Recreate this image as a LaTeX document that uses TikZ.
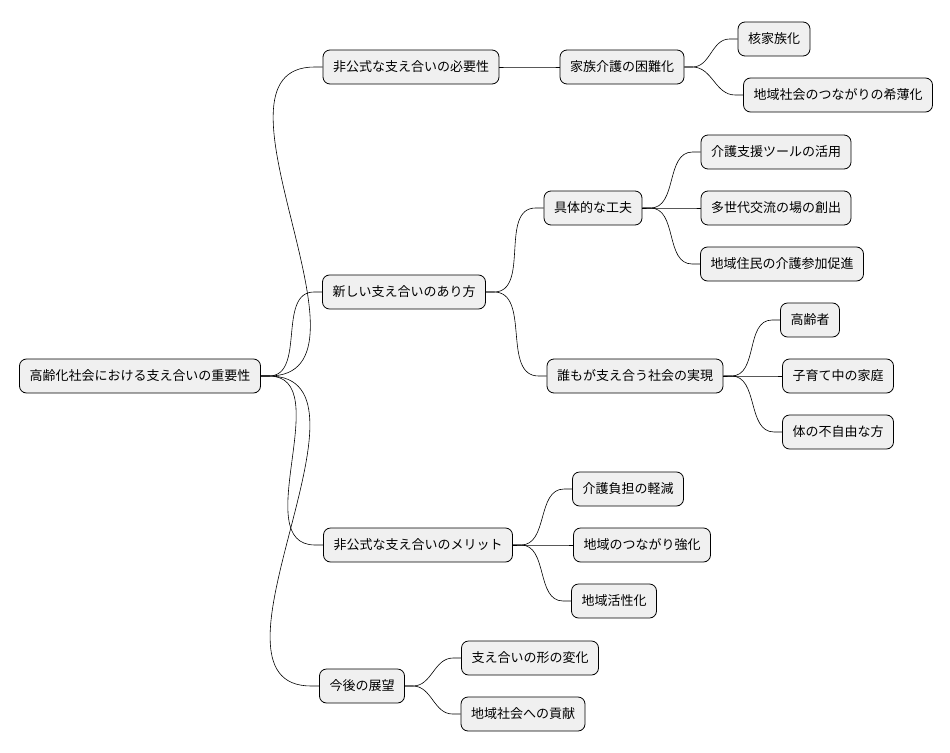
\documentclass[tikz,border=0pt]{standalone}
\usepackage{fontspec}
\setmainfont{Noto Sans CJK JP}
\begin{document}
\begin{tikzpicture}[x=1pt,y=-1pt,
  box/.style={draw=black,line width=0.8pt,fill=black!6,rounded corners=7pt,minimum height=34pt,inner xsep=10pt,font=\fontsize{13}{15}\selectfont},
  link/.style={draw=black,line width=0.6pt}]
\useasboundingbox (0,0) rectangle (950,752);
\node[box] (r) at (140,376) {高齢化社会における支え合いの重要性};
\node[box] (a) at (411,67) {非公式な支え合いの必要性};
\node[box] (a1) at (622,67) {家族介護の困難化};
\node[box] (a11) at (774,39) {核家族化};
\node[box] (a12) at (838,95) {地域社会のつながりの希薄化};
\node[box] (b) at (404,292) {新しい支え合いのあり方};
\node[box] (b1) at (593,208) {具体的な工夫};
\node[box] (b11) at (776,152) {介護支援ツールの活用};
\node[box] (b12) at (776,208) {多世代交流の場の創出};
\node[box] (b13) at (782,264) {地域住民の介護参加促進};
\node[box] (b2) at (635,376) {誰もが支え合う社会の実現};
\node[box] (b21) at (810,320) {高齢者};
\node[box] (b22) at (838,376) {子育て中の家庭};
\node[box] (b23) at (838,432) {体の不自由な方};
\node[box] (c) at (418,545) {非公式な支え合いのメリット};
\node[box] (c1) at (628,489) {介護負担の軽減};
\node[box] (c2) at (642,545) {地域のつながり強化};
\node[box] (c3) at (614,601) {地域活性化};
\node[box] (d) at (362,686) {今後の展望};
\node[box] (d1) at (530,658) {支え合いの形の変化};
\node[box] (d2) at (523,714) {地域社会への貢献};
\foreach \p/\c in {r/a,r/b,r/c,r/d,a/a1,a1/a11,a1/a12,b/b1,b/b2,b1/b11,b1/b12,b1/b13,b2/b21,b2/b22,b2/b23,c/c1,c/c2,c/c3,d/d1,d/d2}
  \draw[link] (\p.east) -- ++(8,0) to[out=0,in=180] ([xshift=-8pt]\c.west) -- (\c.west);
\end{tikzpicture}
\end{document}
